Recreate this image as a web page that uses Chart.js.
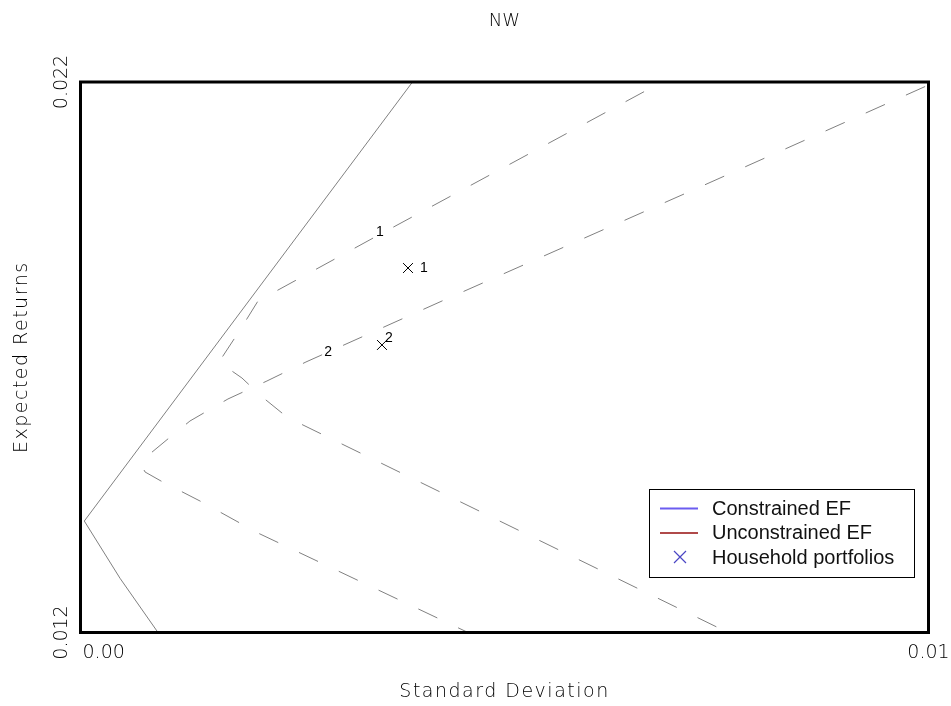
<!DOCTYPE html>
<html>
<head>
<meta charset="utf-8">
<script src="https://cdn.jsdelivr.net/npm/chart.js@4/dist/chart.umd.min.js"></script>
<style>
  html, body { margin: 0; padding: 0; background: #fff; }
  #wrap { width: 951px; height: 706px; }
</style>
</head>
<body>
<div id="wrap"><canvas id="c" width="951" height="706"></canvas></div>
<script>
// Axis ticks
const xTicks = [0, 0.01];
const xTickLabels = ['0.00', '0.01'];
const yTicks = [0.012, 0.022];
const yTickLabels = ['0.012', '0.022'];

// Solid frontier (standard deviation, expected return)
const solidSigma = [0.000914, 0.000466, 0.0000448, 0.003915];
const solidMu    = [0.012,    0.012985, 0.014025,  0.022];

// Dashed frontier 1, traced from its lower end
const curve1Sigma = [0.007636, 0.002600, 0.002376, 0.002129, 0.001904, 0.001633, 0.001881, 0.002093, 0.003473, 0.006857];
const curve1Mu    = [0.012,    0.015787, 0.015987, 0.016296, 0.016623, 0.016913, 0.017495, 0.018022, 0.019184, 0.022];

// Dashed frontier 2, traced from its lower end
const curve2Sigma = [0.004570, 0.002093, 0.001409, 0.000949, 0.000761, 0.000713, 0.000831, 0.001044, 0.001291, 0.001739, 0.002199, 0.002659, 0.003343, 0.004263, 0.007305, 0.01];
const curve2Mu    = [0.012,    0.013807, 0.014389, 0.014752, 0.014916, 0.015061, 0.015261, 0.015533, 0.015842, 0.016242, 0.016569, 0.016914, 0.017386, 0.018022, 0.020093, 0.021945];

// Household portfolios
const householdSigma = [0.003862, 0.003555];
const householdMu    = [0.018621, 0.017223];
const householdIds   = ['1', '2'];

// Frontier tags
const curveTagSigma = [0.003532, 0.002919];
const curveTagMu    = [0.019275, 0.017095];
const curveTagText  = ['1', '2'];

// Legend entries
const legendLabels = ['Constrained EF', 'Unconstrained EF', 'Household portfolios'];
const legendColors = ['#6b5cf0', '#b04a4a', '#4a46c4'];
const legendKinds  = ['line', 'line', 'cross'];

const toPoints = (xs, ys) => xs.map((x, i) => ({ x: x, y: ys[i] }));

const AXIS_FONT = '200 19px "DejaVu Sans"';
const TEXT_COLOR = '#000';

const decorations = {
  id: 'decorations',
  afterDatasetsDraw(chart) {
    const ctx = chart.ctx;
    const a = chart.chartArea;
    const xs = chart.scales.x, ys = chart.scales.y;
    ctx.save();

    // plot frame
    ctx.strokeStyle = '#000';
    ctx.lineWidth = 3;
    ctx.strokeRect(a.left, a.top, a.right - a.left, a.bottom - a.top);

    // tick labels
    ctx.fillStyle = TEXT_COLOR;
    ctx.font = AXIS_FONT;
    ctx.textBaseline = 'middle';
    xTicks.forEach((v, i) => {
      const px = xs.getPixelForValue(v);
      ctx.textAlign = i === 0 ? 'left' : 'center';
      ctx.fillText(xTickLabels[i], i === 0 ? px + 2 : px, 653);
    });
    yTicks.forEach((v, i) => {
      const py = ys.getPixelForValue(v);
      ctx.save();
      ctx.translate(62, py);
      ctx.rotate(-Math.PI / 2);
      ctx.textAlign = 'center';
      ctx.fillText(yTickLabels[i], 0, 0);
      ctx.restore();
    });

    // axis titles and chart title
    ctx.letterSpacing = '1.5px';
    ctx.textAlign = 'center';
    ctx.fillText('Standard Deviation', (a.left + a.right) / 2, 692);
    ctx.save();
    ctx.translate(22, (a.top + a.bottom) / 2);
    ctx.rotate(-Math.PI / 2);
    ctx.fillText('Expected Returns', 0, 0);
    ctx.restore();
    ctx.letterSpacing = '0px';
    ctx.font = '200 18px "DejaVu Sans"';
    ctx.fillText('NW', (a.left + a.right) / 2, 21);

    // frontier tags and household ids
    ctx.fillStyle = '#000';
    ctx.font = '14px "Liberation Sans"';
    ctx.textAlign = 'center';
    curveTagText.forEach((t, i) => {
      ctx.fillText(t, xs.getPixelForValue(curveTagSigma[i]), ys.getPixelForValue(curveTagMu[i]));
    });
    householdIds.forEach((t, i) => {
      const px = xs.getPixelForValue(householdSigma[i]);
      const py = ys.getPixelForValue(householdMu[i]);
      if (i === 0) ctx.fillText(t, px + 16, py);
      else ctx.fillText(t, px + 7, py - 7);
    });

    // legend
    const bx = 649, by = 489, bw = 265, bh = 88;
    ctx.fillStyle = '#fff';
    ctx.fillRect(bx, by, bw, bh);
    ctx.strokeStyle = '#000';
    ctx.lineWidth = 1;
    ctx.strokeRect(bx + 0.5, by + 0.5, bw, bh);
    ctx.font = '20px "Liberation Sans"';
    ctx.textAlign = 'left';
    ctx.textBaseline = 'middle';
    legendLabels.forEach((lab, i) => {
      const cy = 508 + i * 24.5;
      ctx.strokeStyle = legendColors[i];
      ctx.lineWidth = 2;
      ctx.beginPath();
      if (legendKinds[i] === 'line') {
        ctx.moveTo(660, cy + 0.5);
        ctx.lineTo(698, cy + 0.5);
      } else {
        ctx.lineWidth = 1.2;
        ctx.moveTo(674, cy - 6); ctx.lineTo(686, cy + 6);
        ctx.moveTo(686, cy - 6); ctx.lineTo(674, cy + 6);
      }
      ctx.stroke();
      ctx.fillStyle = '#111';
      ctx.fillText(lab, 712, cy + 1);
    });
    ctx.restore();
  }
};

new Chart(document.getElementById('c'), {
  type: 'scatter',
  data: {
    datasets: [
      {
        label: 'Constrained EF',
        data: toPoints(solidSigma, solidMu),
        showLine: true,
        borderColor: '#808080',
        borderWidth: 1,
        pointRadius: 0,
        tension: 0
      },
      {
        label: 'Frontier 1',
        data: toPoints(curve1Sigma, curve1Mu),
        showLine: true,
        borderColor: '#808080',
        borderWidth: 1,
        borderDash: [21, 23],
        borderDashOffset: 31,
        pointRadius: 0,
        tension: 0
      },
      {
        label: 'Frontier 2',
        data: toPoints(curve2Sigma, curve2Mu),
        showLine: true,
        borderColor: '#808080',
        borderWidth: 1,
        borderDash: [21, 23],
        borderDashOffset: 10,
        pointRadius: 0,
        tension: 0
      },
      {
        label: 'Household portfolios',
        data: toPoints(householdSigma, householdMu),
        showLine: false,
        pointStyle: 'crossRot',
        pointRadius: 7,
        borderColor: '#000',
        borderWidth: 1
      }
    ]
  },
  options: {
    responsive: false,
    animation: false,
    devicePixelRatio: 1,
    layout: { padding: { left: 80.5, top: 82, right: 22.5, bottom: 73.5 } },
    scales: {
      x: { type: 'linear', min: 0, max: 0.01, display: false },
      y: { type: 'linear', min: 0.012, max: 0.022, display: false }
    },
    plugins: {
      legend: { display: false },
      tooltip: { enabled: false },
      title: { display: false }
    }
  },
  plugins: [decorations]
});
</script>
</body>
</html>
